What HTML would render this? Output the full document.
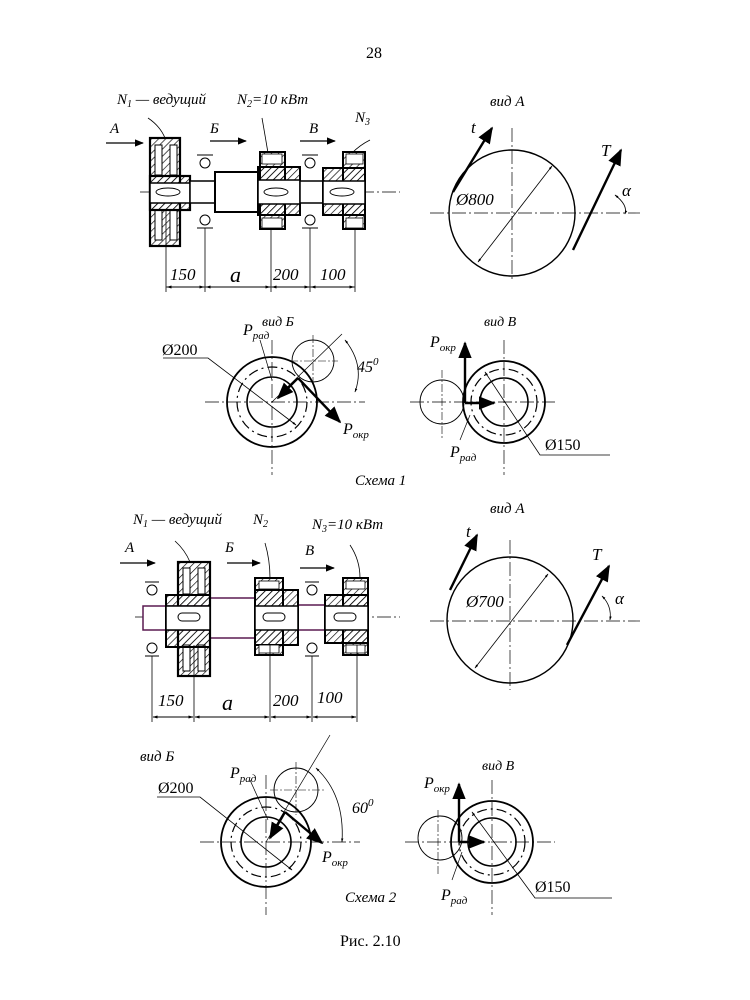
<!DOCTYPE html>
<html><head><meta charset="utf-8"><style>
body{margin:0;background:#fff}
svg{display:block}
text{font-family:"Liberation Serif",serif;fill:#000}
.i{font-style:italic}
</style></head><body>
<svg width="750" height="1000" viewBox="0 0 750 1000" xmlns="http://www.w3.org/2000/svg">
<defs>
<pattern id="h" width="5" height="5" patternUnits="userSpaceOnUse" patternTransform="rotate(45)"><line x1="0" y1="0" x2="0" y2="5" stroke="#000" stroke-width="1.3"/></pattern>
<marker id="a" viewBox="0 0 10 10" refX="9" refY="5" markerWidth="7" markerHeight="7" orient="auto-start-reverse"><path d="M0,1 L10,5 L0,9 z" fill="#000"/></marker>
<marker id="s" viewBox="0 0 10 10" refX="9" refY="5" markerWidth="5" markerHeight="5" orient="auto-start-reverse"><path d="M0,2 L10,5 L0,8 z" fill="#000"/></marker>
</defs>
<text x="366" y="58" font-size="16">28</text>

<g class="i">
<!-- ===== SCHEME 1 shaft ===== -->
<g font-size="15">
<text x="117" y="104">N<tspan font-size="10" dy="3">1</tspan><tspan dy="-3"> — ведущий</tspan></text>
<text x="237" y="104">N<tspan font-size="10" dy="3">2</tspan><tspan dy="-3">=10 кВт</tspan></text>
<text x="355" y="122">N<tspan font-size="10" dy="3">3</tspan></text>
<text x="110" y="133">A</text><text x="210" y="133">Б</text><text x="309" y="133">В</text>
</g>
<g font-size="17"><text x="170" y="280">150</text><text x="230" y="282" font-size="22">a</text><text x="273" y="280">200</text><text x="320" y="280">100</text></g>
<text x="490" y="106" font-size="15">вид А</text>
<g font-size="17"><text x="471" y="133">t</text><text x="601" y="156">T</text><text x="622" y="196">α</text></g>
<text x="262" y="326" font-size="14">вид Б</text>
<g font-size="16"><text x="243" y="335">P<tspan font-size="11" dy="4">рад</tspan></text>
<text x="357" y="372">45<tspan font-size="11" dy="-7">0</tspan></text><text x="343" y="434">P<tspan font-size="11" dy="4">окр</tspan></text></g>
<text x="484" y="326" font-size="14">вид В</text>
<g font-size="16"><text x="430" y="347">P<tspan font-size="11" dy="4">окр</tspan></text><text x="450" y="457">P<tspan font-size="11" dy="4">рад</tspan></text></g>
<text x="355" y="485" font-size="15">Схема 1</text>

<g font-size="15">
<text x="133" y="524">N<tspan font-size="10" dy="3">1</tspan><tspan dy="-3"> — ведущий</tspan></text>
<text x="253" y="524">N<tspan font-size="10" dy="3">2</tspan></text>
<text x="312" y="529">N<tspan font-size="10" dy="3">3</tspan><tspan dy="-3">=10 кВт</tspan></text>
<text x="125" y="552">A</text><text x="225" y="552">Б</text><text x="305" y="555">В</text>
</g>
<g font-size="17"><text x="158" y="706">150</text><text x="222" y="710" font-size="22">a</text><text x="273" y="706">200</text><text x="317" y="703">100</text></g>
<text x="490" y="513" font-size="15">вид А</text>
<g font-size="17"><text x="466" y="537">t</text><text x="592" y="560">T</text><text x="615" y="604">α</text></g>
<text x="140" y="761" font-size="15">вид Б</text>
<g font-size="16"><text x="230" y="778">P<tspan font-size="11" dy="4">рад</tspan></text>
<text x="352" y="813">60<tspan font-size="11" dy="-7">0</tspan></text><text x="322" y="862">P<tspan font-size="11" dy="4">окр</tspan></text></g>
<text x="482" y="770" font-size="14">вид В</text>
<g font-size="16"><text x="424" y="788">P<tspan font-size="11" dy="4">окр</tspan></text><text x="441" y="900">P<tspan font-size="11" dy="4">рад</tspan></text></g>
<text x="345" y="902" font-size="15">Схема 2</text>
<text x="456" y="205" font-size="17">Ø800</text>
<text x="466" y="607" font-size="17">Ø700</text>
</g>
<g font-size="16">
<text x="162" y="355">Ø200</text>
<text x="545" y="450">Ø150</text>
<text x="158" y="793">Ø200</text>
<text x="535" y="892">Ø150</text>
</g>
<text x="340" y="946" font-size="16">Рис. 2.10</text>

<g stroke="#000" fill="none">
<line x1="106" y1="143" x2="143" y2="143" stroke-width="1.3" marker-end="url(#a)"/>
<line x1="210" y1="141" x2="246" y2="141" stroke-width="1.3" marker-end="url(#a)"/>
<line x1="300" y1="141" x2="335" y2="141" stroke-width="1.3" marker-end="url(#a)"/>
<path d="M148,118 Q160,126 165,138 M262,118 Q265,135 268,153 M370,140 Q360,145 352,153" stroke-width="0.8"/>
<line x1="140" y1="192" x2="400" y2="192" stroke-width="0.7" stroke-dasharray="14,3,2,3"/>
<rect x="150" y="138" width="30" height="108" fill="url(#h)" stroke-width="2.2"/>
<rect x="155" y="145" width="7" height="30" fill="#fff" stroke-width="1"/><rect x="170" y="145" width="7" height="30" fill="#fff" stroke-width="1"/>
<rect x="155" y="210" width="7" height="30" fill="#fff" stroke-width="1"/><rect x="170" y="210" width="7" height="30" fill="#fff" stroke-width="1"/>
<rect x="150" y="176" width="40" height="34" fill="url(#h)" stroke-width="2.2"/>
<rect x="150" y="183" width="40" height="20" fill="#fff" stroke-width="1.5"/>
<ellipse cx="168" cy="192" rx="12" ry="4" stroke-width="0.9"/>
<rect x="190" y="181" width="25" height="22" fill="#fff" stroke-width="1.5"/>
<rect x="215" y="172" width="43" height="40" fill="#fff" stroke-width="2"/>
<rect x="260" y="152" width="25" height="77" fill="url(#h)" stroke-width="2"/>
<rect x="258" y="167" width="42" height="48" fill="url(#h)" stroke-width="2"/>
<rect x="258" y="180" width="42" height="24" fill="#fff" stroke-width="1.5"/>
<rect x="262" y="154" width="20" height="10" fill="#fff" stroke-width="0.8"/><rect x="262" y="218" width="20" height="10" fill="#fff" stroke-width="0.8"/>
<ellipse cx="276" cy="192" rx="12" ry="4" stroke-width="0.9"/>
<rect x="300" y="181" width="24" height="22" fill="#fff" stroke-width="1.5"/>
<rect x="343" y="152" width="22" height="77" fill="url(#h)" stroke-width="2"/>
<rect x="323" y="168" width="42" height="47" fill="url(#h)" stroke-width="2"/>
<rect x="323" y="181" width="42" height="23" fill="#fff" stroke-width="1.5"/>
<rect x="346" y="154" width="17" height="10" fill="#fff" stroke-width="0.8"/><rect x="346" y="218" width="17" height="10" fill="#fff" stroke-width="0.8"/>
<ellipse cx="342" cy="192" rx="12" ry="4" stroke-width="0.9"/>
<g stroke-width="1"><circle cx="205" cy="163" r="5"/><circle cx="205" cy="220" r="5"/><circle cx="310" cy="163" r="5"/><circle cx="310" cy="220" r="5"/>
<line x1="197" y1="155" x2="213" y2="155"/><line x1="197" y1="228" x2="213" y2="228"/><line x1="302" y1="155" x2="318" y2="155"/><line x1="302" y1="228" x2="318" y2="228"/></g>
<g stroke-width="0.8"><line x1="166" y1="210" x2="166" y2="292"/><line x1="205" y1="228" x2="205" y2="292"/><line x1="271" y1="229" x2="271" y2="292"/><line x1="310" y1="228" x2="310" y2="292"/><line x1="355" y1="229" x2="355" y2="292"/>
<line x1="166" y1="287" x2="355" y2="287"/></g>
<g stroke-width="1" marker-start="url(#s)" marker-end="url(#s)"><line x1="167" y1="287" x2="204" y2="287"/><line x1="206" y1="287" x2="270" y2="287"/><line x1="272" y1="287" x2="309" y2="287"/><line x1="311" y1="287" x2="354" y2="287"/></g>

<circle cx="512" cy="213" r="63" stroke-width="1.4"/>
<line x1="430" y1="213" x2="640" y2="213" stroke-width="0.7" stroke-dasharray="14,3,2,3"/>
<line x1="512" y1="128" x2="512" y2="282" stroke-width="0.7" stroke-dasharray="14,3,2,3"/>
<line x1="453" y1="192" x2="492" y2="128" stroke-width="2.4" marker-end="url(#a)"/>
<line x1="573" y1="250" x2="621" y2="150" stroke-width="2.4" marker-end="url(#a)"/>
<line x1="478" y1="262" x2="552" y2="166" stroke-width="0.8" marker-start="url(#s)" marker-end="url(#s)"/>
<path d="M615,195 Q628,205 625,214" stroke-width="0.8" marker-start="url(#s)" marker-end="url(#s)"/>

<line x1="205" y1="402" x2="365" y2="402" stroke-width="0.7" stroke-dasharray="14,3,2,3"/>
<line x1="272" y1="340" x2="272" y2="475" stroke-width="0.7" stroke-dasharray="14,3,2,3"/>
<circle cx="272" cy="402" r="45" stroke-width="1.8"/>
<circle cx="272" cy="402" r="35" stroke-width="1.2" stroke-dasharray="10,4,2,4"/>
<circle cx="272" cy="402" r="25" stroke-width="1.6"/>
<circle cx="313" cy="361" r="21" stroke-width="0.9"/>
<line x1="313" y1="335" x2="313" y2="385" stroke-width="0.6" stroke-dasharray="8,2,2,2"/>
<line x1="290" y1="361" x2="338" y2="361" stroke-width="0.6" stroke-dasharray="8,2,2,2"/>
<line x1="272" y1="402" x2="342" y2="334" stroke-width="0.7"/>
<line x1="298" y1="378" x2="340" y2="422" stroke-width="2.4" marker-end="url(#a)"/>
<line x1="298" y1="378" x2="278" y2="398" stroke-width="2.4" marker-end="url(#a)"/>
<line x1="272" y1="380" x2="260" y2="340" stroke-width="0.7"/>
<path d="M345,340 Q365,365 355,392" stroke-width="0.8" marker-start="url(#s)" marker-end="url(#s)"/>
<path d="M163,358 L208,358 L296,425" stroke-width="0.8" marker-end="url(#s)"/>

<line x1="410" y1="402" x2="555" y2="402" stroke-width="0.7" stroke-dasharray="14,3,2,3"/>
<line x1="504" y1="340" x2="504" y2="475" stroke-width="0.7" stroke-dasharray="14,3,2,3"/>
<line x1="442" y1="370" x2="442" y2="440" stroke-width="0.6" stroke-dasharray="8,2,2,2"/>
<circle cx="504" cy="402" r="41" stroke-width="1.8"/>
<circle cx="504" cy="402" r="33" stroke-width="1.2" stroke-dasharray="10,4,2,4"/>
<circle cx="504" cy="402" r="24" stroke-width="1.6"/>
<circle cx="442" cy="402" r="22" stroke-width="0.9"/>
<line x1="465" y1="403" x2="465" y2="343" stroke-width="2.4" marker-end="url(#a)"/>
<line x1="465" y1="403" x2="494" y2="403" stroke-width="2.4" marker-end="url(#a)"/>
<path d="M610,455 L540,455 L485,372" stroke-width="0.8" marker-end="url(#s)"/>
<line x1="460" y1="440" x2="470" y2="415" stroke-width="0.7"/>

<line x1="120" y1="563" x2="155" y2="563" stroke-width="1.3" marker-end="url(#a)"/>
<line x1="227" y1="563" x2="260" y2="563" stroke-width="1.3" marker-end="url(#a)"/>
<line x1="300" y1="568" x2="334" y2="568" stroke-width="1.3" marker-end="url(#a)"/>
<path d="M175,541 Q185,550 190,562 M265,543 Q270,560 270,578 M350,545 Q360,560 360,578" stroke-width="0.8"/>
<line x1="135" y1="617" x2="400" y2="617" stroke-width="0.7" stroke-dasharray="14,3,2,3"/>
<g stroke="#5a1a50">
<rect x="143" y="606" width="72" height="24" fill="#fff" stroke-width="1.5"/>
<rect x="210" y="598" width="45" height="40" fill="#fff" stroke-width="1.5"/>
<rect x="298" y="605" width="27" height="25" fill="#fff" stroke-width="1.5"/>
</g>
<rect x="178" y="562" width="32" height="114" fill="url(#h)" stroke-width="2.2"/>
<rect x="183" y="568" width="7" height="26" fill="#fff" stroke-width="1"/><rect x="198" y="568" width="7" height="26" fill="#fff" stroke-width="1"/>
<rect x="183" y="645" width="7" height="26" fill="#fff" stroke-width="1"/><rect x="198" y="645" width="7" height="26" fill="#fff" stroke-width="1"/>
<rect x="166" y="595" width="44" height="52" fill="url(#h)" stroke-width="2"/>
<rect x="166" y="606" width="44" height="24" fill="#fff" stroke-width="1.5"/>
<rect x="178" y="613" width="22" height="8" rx="4" stroke-width="1"/>
<rect x="255" y="578" width="28" height="77" fill="url(#h)" stroke-width="2"/>
<rect x="255" y="590" width="43" height="55" fill="url(#h)" stroke-width="2"/>
<rect x="255" y="606" width="43" height="24" fill="#fff" stroke-width="1.5"/>
<rect x="259" y="581" width="20" height="8" fill="#fff" stroke-width="0.8"/><rect x="259" y="645" width="20" height="8" fill="#fff" stroke-width="0.8"/>
<rect x="263" y="613" width="22" height="8" rx="4" stroke-width="1"/>
<rect x="343" y="578" width="25" height="77" fill="url(#h)" stroke-width="2"/>
<rect x="325" y="595" width="43" height="48" fill="url(#h)" stroke-width="2"/>
<rect x="325" y="606" width="43" height="24" fill="#fff" stroke-width="1.5"/>
<rect x="346" y="581" width="19" height="8" fill="#fff" stroke-width="0.8"/><rect x="346" y="645" width="19" height="8" fill="#fff" stroke-width="0.8"/>
<rect x="334" y="613" width="22" height="8" rx="4" stroke-width="1"/>
<g stroke-width="1"><circle cx="152" cy="590" r="5"/><circle cx="152" cy="648" r="5"/><circle cx="312" cy="590" r="5"/><circle cx="312" cy="648" r="5"/>
<line x1="145" y1="582" x2="159" y2="582"/><line x1="145" y1="656" x2="159" y2="656"/><line x1="305" y1="582" x2="319" y2="582"/><line x1="305" y1="656" x2="319" y2="656"/></g>
<g stroke-width="0.8"><line x1="152" y1="656" x2="152" y2="722"/><line x1="194" y1="645" x2="194" y2="722"/><line x1="270" y1="645" x2="270" y2="722"/><line x1="312" y1="656" x2="312" y2="722"/><line x1="357" y1="645" x2="357" y2="722"/></g>
<g stroke-width="1" marker-start="url(#s)" marker-end="url(#s)"><line x1="153" y1="717" x2="193" y2="717"/><line x1="195" y1="717" x2="269" y2="717"/><line x1="271" y1="717" x2="311" y2="717"/><line x1="313" y1="717" x2="356" y2="717"/></g>

<circle cx="510" cy="620" r="63" stroke-width="1.4"/>
<line x1="430" y1="621" x2="640" y2="621" stroke-width="0.7" stroke-dasharray="14,3,2,3"/>
<line x1="510" y1="540" x2="510" y2="690" stroke-width="0.7" stroke-dasharray="14,3,2,3"/>
<line x1="450" y1="590" x2="477" y2="535" stroke-width="2.4" marker-end="url(#a)"/>
<line x1="567" y1="645" x2="609" y2="566" stroke-width="2.4" marker-end="url(#a)"/>
<line x1="475" y1="668" x2="548" y2="574" stroke-width="0.8" marker-start="url(#s)" marker-end="url(#s)"/>
<path d="M602,596 Q612,606 610,620" stroke-width="0.8" marker-start="url(#s)" marker-end="url(#s)"/>

<line x1="200" y1="842" x2="360" y2="842" stroke-width="0.7" stroke-dasharray="14,3,2,3"/>
<line x1="266" y1="775" x2="266" y2="915" stroke-width="0.7" stroke-dasharray="14,3,2,3"/>
<circle cx="266" cy="842" r="45" stroke-width="1.8"/>
<circle cx="266" cy="842" r="35" stroke-width="1.2" stroke-dasharray="10,4,2,4"/>
<circle cx="266" cy="842" r="25" stroke-width="1.6"/>
<circle cx="296" cy="790" r="22" stroke-width="0.9"/>
<line x1="296" y1="762" x2="296" y2="815" stroke-width="0.6" stroke-dasharray="8,2,2,2"/>
<line x1="270" y1="790" x2="325" y2="790" stroke-width="0.6" stroke-dasharray="8,2,2,2"/>
<line x1="266" y1="842" x2="330" y2="735" stroke-width="0.7"/>
<line x1="285" y1="812" x2="322" y2="843" stroke-width="2.4" marker-end="url(#a)"/>
<line x1="285" y1="812" x2="270" y2="838" stroke-width="2.4" marker-end="url(#a)"/>
<line x1="268" y1="820" x2="250" y2="780" stroke-width="0.7"/>
<path d="M316,768 Q345,795 342,842" stroke-width="0.8" marker-start="url(#s)" marker-end="url(#s)"/>
<path d="M157,797 L200,797 L292,870" stroke-width="0.8" marker-end="url(#s)"/>

<line x1="405" y1="842" x2="555" y2="842" stroke-width="0.7" stroke-dasharray="14,3,2,3"/>
<line x1="492" y1="780" x2="492" y2="915" stroke-width="0.7" stroke-dasharray="14,3,2,3"/>
<line x1="438" y1="810" x2="438" y2="875" stroke-width="0.6" stroke-dasharray="8,2,2,2"/>
<circle cx="492" cy="842" r="41" stroke-width="1.8"/>
<circle cx="492" cy="842" r="33" stroke-width="1.2" stroke-dasharray="10,4,2,4"/>
<circle cx="492" cy="842" r="24" stroke-width="1.6"/>
<circle cx="440" cy="838" r="22" stroke-width="0.9"/>
<line x1="459" y1="842" x2="459" y2="784" stroke-width="2.4" marker-end="url(#a)"/>
<line x1="459" y1="842" x2="484" y2="842" stroke-width="2.4" marker-end="url(#a)"/>
<path d="M612,898 L535,898 L472,812" stroke-width="0.8" marker-end="url(#s)"/>
<line x1="452" y1="880" x2="462" y2="852" stroke-width="0.7"/>
</g>
</svg>
</body></html>
